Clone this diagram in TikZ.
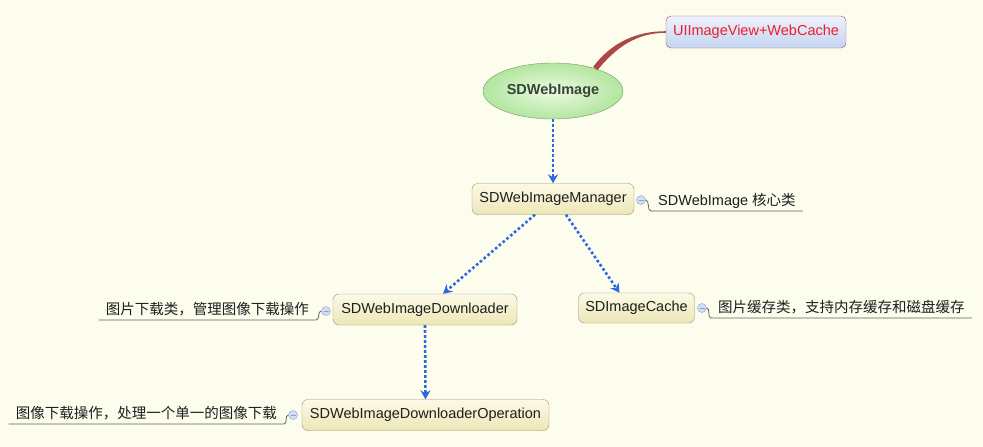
\documentclass[tikz,border=0pt]{standalone}
\usepackage{fontspec}
\setmainfont{Liberation Sans}
\newfontfamily\cjk{Noto Sans CJK SC}
\usetikzlibrary{calc}
\usetikzlibrary{arrows.meta}
\usetikzlibrary{shapes.geometric}

\definecolor{paper}{RGB}{253,253,238}
\definecolor{linkblue}{RGB}{45,105,225}
\definecolor{boxedge}{RGB}{150,145,118}
\definecolor{boxtop}{RGB}{252,250,230}
\definecolor{boxbot}{RGB}{236,230,182}
\definecolor{uitop}{RGB}{238,242,252}
\definecolor{uibot}{RGB}{196,212,240}
\definecolor{uiedge}{RGB}{150,90,100}
\definecolor{uitext}{RGB}{235,30,40}
\definecolor{rootin}{RGB}{236,250,228}
\definecolor{rootout}{RGB}{178,230,158}
\definecolor{rootedge}{RGB}{120,150,110}
\definecolor{roottext}{RGB}{55,70,55}
\definecolor{branch}{RGB}{172,72,72}
\definecolor{foldfill}{RGB}{210,222,244}
\definecolor{foldedge}{RGB}{140,160,205}
\definecolor{notetext}{RGB}{30,30,30}
\definecolor{noteline}{RGB}{95,95,85}

\begin{document}
\begin{tikzpicture}[x=1pt,y=-1pt,
  classnode/.style={draw=boxedge,rounded corners=6pt,top color=boxtop,bottom color=boxbot,
    minimum height=31pt,inner sep=0pt,text=notetext,font=\fontsize{14.5}{17}\selectfont},
  catnode/.style={draw=uiedge,rounded corners=5pt,top color=uitop,bottom color=uibot,
    minimum width=180pt,minimum height=32pt,inner sep=0pt,text=uitext,font=\fontsize{14.5}{17}\selectfont},
  rootnode/.style={ellipse,draw=rootedge,inner color=rootin,outer color=rootout,
    minimum width=140pt,minimum height=56pt,inner sep=0pt,text=roottext,font=\fontsize{14.5}{17}\selectfont\bfseries},
  foldnode/.style={circle,draw=foldedge,fill=foldfill,minimum size=9pt,inner sep=0pt,
    path picture={\draw[foldedge,line width=0.8pt] ([xshift=-2.5pt]path picture bounding box.center) -- ([xshift=2.5pt]path picture bounding box.center);}},
  notenode/.style={inner xsep=7pt,inner ysep=1pt,text height=11pt,text depth=4pt,text=notetext,font=\fontsize{14.5}{17}\selectfont},
  link/.style={draw=linkblue,line width=2.6pt,dash pattern=on 2.6pt off 2.4pt,-{Stealth[length=9pt,width=10pt,inset=3pt]}},
  noteline/.style={draw=noteline,line width=0.8pt}]

% Background
\fill[paper] (0,0) rectangle (983,447);

% Root and category
\node[rootnode] (sdweb) at (553,91) {SDWebImage};
\node[catnode] (uicat) at (756,32) {UIImageView+WebCache};
\fill[branch] ($(sdweb.28)+(-2.2,-1.6)$) .. controls +(18,-24) and +(-30,0) .. ($(uicat.west)+(0,-0.8)$)
  -- ($(uicat.west)+(0,0.8)$) .. controls +(-30,0) and +(18,-22) .. ($(sdweb.28)+(2.2,1.6)$) -- cycle;

% Classes
\node[classnode,minimum width=162pt] (mgr) at (553,199) {SDWebImageManager};
\node[classnode,minimum width=184pt] (dl) at (425,309.5) {SDWebImageDownloader};
\node[classnode,minimum width=116pt,minimum height=30pt] (cache) at (636.5,308) {SDImageCache};
\node[classnode,minimum width=247pt] (op) at (425.5,415) {SDWebImageDownloaderOperation};

% Links
\draw[link] (sdweb.south) -- (mgr.north);
\draw[link] ([xshift=-18pt]mgr.south) -- ([xshift=18pt]dl.north);
\draw[link] ([xshift=13pt]mgr.south) -- ([xshift=-17pt]cache.north);
\draw[link] (dl.south) -- (op.north);

% Notes
\node[foldnode] (mgrfold) at (641,200) {};
\node[notenode,anchor=south west] (mgrnote) at (651,211) {SDWebImage {\cjk 核心类}};
\draw[noteline] (mgrfold.east) .. controls +(4,0) and +(-4,0) .. (mgrnote.south west) -- (mgrnote.south east);

\node[foldnode] (dlfold) at (326,311) {};
\node[notenode,anchor=south east] (dlnote) at (316,320) {\cjk 图片下载类，管理图像下载操作};
\draw[noteline] (dlnote.south west) -- (dlnote.south east) .. controls +(4,0) and +(-4,0) .. (dlfold.west);

\node[foldnode] (cachefold) at (702,308) {};
\node[notenode,anchor=south west] (cachenote) at (711,318) {\cjk 图片缓存类，支持内存缓存和磁盘缓存};
\draw[noteline] (cachefold.east) .. controls +(4,0) and +(-4,0) .. (cachenote.south west) -- (cachenote.south east);

\node[foldnode] (opfold) at (293,415) {};
\node[notenode,anchor=south east] (opnote) at (284,424) {\cjk 图像下载操作，处理一个单一的图像下载};
\draw[noteline] (opnote.south west) -- (opnote.south east) .. controls +(4,0) and +(-4,0) .. (opfold.west);

\end{tikzpicture}
\end{document}
